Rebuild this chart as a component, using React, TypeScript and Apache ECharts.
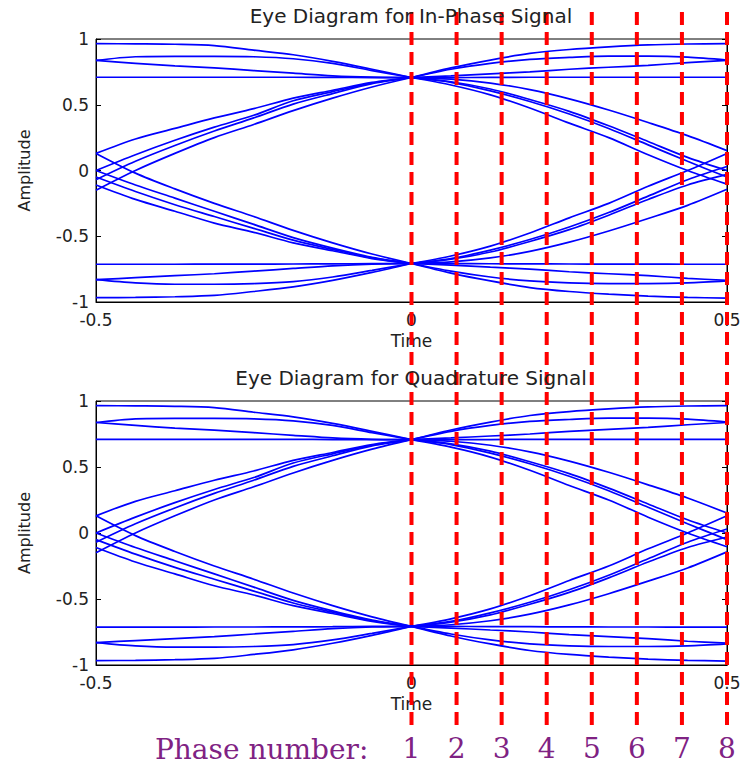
import React, { useEffect, useRef } from "react";
import * as echarts from "echarts";

// sample times for the two halves of a symbol period
const tLeft = [-0.5, -0.4375, -0.375, -0.3125, -0.25, -0.1875, -0.125, -0.0625, 0];
const tRight = [0, 0.0625, 0.125, 0.1875, 0.25, 0.3125, 0.375, 0.4375, 0.5];

// left half: traces converging to +0.707
const upperLeftOuter = [0.965, 0.963, 0.96, 0.95, 0.915, 0.88, 0.83, 0.77, 0.707];
const upperLeftBulge = [0.837, 0.865, 0.868, 0.868, 0.865, 0.85, 0.815, 0.76, 0.707];
const upperLeftInner = [0.837, 0.815, 0.795, 0.78, 0.76, 0.74, 0.72, 0.71, 0.707];
const upperLeftFlat = [0.709, 0.709, 0.709, 0.709, 0.709, 0.709, 0.708, 0.707, 0.707];
const risingLeft1 = [0.13, 0.24, 0.32, 0.4, 0.47, 0.55, 0.61, 0.67, 0.707];
const risingLeft2 = [0.0, 0.12, 0.23, 0.33, 0.42, 0.53, 0.6, 0.665, 0.707];
const risingLeft3 = [-0.07, 0.07, 0.19, 0.3, 0.4, 0.505, 0.585, 0.66, 0.707];
const risingLeft4 = [-0.15, 0.0, 0.13, 0.25, 0.35, 0.455, 0.55, 0.635, 0.707];
// left half: traces converging to -0.707
const fallingLeft1 = [0.13, -0.02, -0.14, -0.25, -0.35, -0.455, -0.55, -0.635, -0.707];
const fallingLeft2 = [0.0, -0.11, -0.21, -0.31, -0.41, -0.51, -0.59, -0.66, -0.707];
const fallingLeft3 = [-0.05, -0.16, -0.26, -0.35, -0.44, -0.53, -0.6, -0.665, -0.707];
const fallingLeft4 = [-0.11, -0.22, -0.31, -0.4, -0.47, -0.55, -0.61, -0.67, -0.707];
const lowerLeftOuter = [-0.967, -0.965, -0.96, -0.95, -0.92, -0.885, -0.835, -0.775, -0.707];
const lowerLeftBulge = [-0.83, -0.855, -0.865, -0.865, -0.86, -0.845, -0.81, -0.76, -0.707];
const lowerLeftInner = [-0.83, -0.815, -0.8, -0.785, -0.765, -0.745, -0.725, -0.712, -0.707];
const lowerLeftFlat = [-0.713, -0.713, -0.713, -0.712, -0.712, -0.711, -0.71, -0.708, -0.707];

// right half: traces leaving +0.707
const upperRightOuter = [0.707, 0.78, 0.84, 0.89, 0.92, 0.94, 0.955, 0.962, 0.965];
const upperRightBulge = [0.707, 0.77, 0.815, 0.845, 0.86, 0.87, 0.87, 0.862, 0.84];
const upperRightInner = [0.707, 0.72, 0.735, 0.75, 0.77, 0.785, 0.8, 0.82, 0.837];
const upperRightFlat = [0.707, 0.707, 0.708, 0.709, 0.709, 0.709, 0.709, 0.709, 0.709];
const fallingRight1 = [0.707, 0.695, 0.665, 0.615, 0.545, 0.46, 0.365, 0.265, 0.151];
const fallingRight2 = [0.707, 0.675, 0.62, 0.54, 0.45, 0.34, 0.22, 0.1, 0.0];
const fallingRight3 = [0.707, 0.67, 0.605, 0.525, 0.43, 0.32, 0.195, 0.07, -0.05];
const fallingRight4 = [0.707, 0.65, 0.575, 0.475, 0.36, 0.25, 0.12, 0.0, -0.104];
// right half: traces leaving -0.707
const risingRight1 = [-0.707, -0.65, -0.575, -0.475, -0.36, -0.25, -0.12, 0.0, 0.13];
const risingRight2 = [-0.707, -0.67, -0.605, -0.525, -0.43, -0.32, -0.195, -0.07, 0.03];
const risingRight3 = [-0.707, -0.675, -0.62, -0.54, -0.45, -0.34, -0.22, -0.11, -0.03];
const risingRight4 = [-0.707, -0.695, -0.665, -0.615, -0.545, -0.46, -0.365, -0.265, -0.143];
const lowerRightOuter = [-0.707, -0.78, -0.84, -0.89, -0.92, -0.94, -0.955, -0.965, -0.97];
const lowerRightBulge = [-0.707, -0.765, -0.81, -0.84, -0.855, -0.86, -0.86, -0.855, -0.84];
const lowerRightInner = [-0.707, -0.72, -0.735, -0.75, -0.77, -0.785, -0.8, -0.82, -0.835];
const lowerRightFlat = [-0.707, -0.708, -0.709, -0.71, -0.711, -0.712, -0.712, -0.713, -0.713];

const leftTraces = [
  upperLeftOuter, upperLeftBulge, upperLeftInner, upperLeftFlat,
  risingLeft1, risingLeft2, risingLeft3, risingLeft4,
  fallingLeft1, fallingLeft2, fallingLeft3, fallingLeft4,
  lowerLeftOuter, lowerLeftBulge, lowerLeftInner, lowerLeftFlat,
];
const rightTraces = [
  upperRightOuter, upperRightBulge, upperRightInner, upperRightFlat,
  fallingRight1, fallingRight2, fallingRight3, fallingRight4,
  risingRight1, risingRight2, risingRight3, risingRight4,
  lowerRightOuter, lowerRightBulge, lowerRightInner, lowerRightFlat,
];

const plotTitles = ["Eye Diagram for In-Phase Signal", "Eye Diagram for Quadrature Signal"];
const phaseTicks = [0, 1, 2, 3, 4, 5, 6, 7];
const phaseLabels = ["1", "2", "3", "4", "5", "6", "7", "8"];

const SANS = "DejaVu Sans";
const SERIF = "DejaVu Serif";
const PURPLE = "#7f2283";

export default function App() {
  const ref = useRef<HTMLDivElement>(null);
  useEffect(() => {
    if (!ref.current) return;
    const chart = echarts.init(ref.current, undefined, { renderer: "svg" });

    const grids = [
      { left: 96, top: 39, width: 631, height: 263, show: true, borderColor: "#000", borderWidth: 1 },
      { left: 96, top: 401, width: 631, height: 264, show: true, borderColor: "#000", borderWidth: 1 },
      { left: 96, top: 12, width: 631, height: 716 },
    ];

    const xAxes: any[] = [0, 1].map((g) => ({
      type: "value",
      gridIndex: g,
      position: "bottom",
      min: -0.5,
      max: 0.5,
      interval: 0.5,
      name: "Time",
      nameLocation: "middle",
      nameGap: 30,
      nameTextStyle: { fontFamily: SANS, fontSize: 17, color: "#222" },
      axisLine: { show: true, onZero: false, lineStyle: { color: "#000", width: 1 } },
      axisTick: { show: true, inside: true, length: 5, lineStyle: { color: "#000" } },
      axisLabel: { fontFamily: SANS, fontSize: 17, color: "#222", margin: 9 },
      splitLine: { show: false },
    }));
    xAxes.push({
      type: "value",
      gridIndex: 2,
      min: -7,
      max: 7,
      interval: 1,
      axisLine: { show: false, onZero: false },
      axisTick: { show: false },
      splitLine: { show: false },
      axisLabel: {
        fontFamily: SERIF,
        fontSize: 28,
        color: PURPLE,
        margin: 6,
        formatter: (v: number) => (v >= 0 ? phaseLabels[phaseTicks.indexOf(v)] ?? "" : ""),
      },
    });

    const yAxes: any[] = [];
    [0, 1].forEach((g) => {
      yAxes.push({
        type: "value",
        gridIndex: g,
        position: "left",
        min: -1,
        max: 1,
        interval: 0.5,
        name: "Amplitude",
        nameLocation: "middle",
        nameGap: 64,
        nameRotate: 90,
        nameTextStyle: { fontFamily: SANS, fontSize: 16, color: "#222" },
        axisLine: { show: true, onZero: false, lineStyle: { color: "#000", width: 1 } },
        axisTick: { show: true, inside: true, length: 5, lineStyle: { color: "#000" } },
        axisLabel: { fontFamily: SANS, fontSize: 17, color: "#222", margin: 7 },
        splitLine: { show: false },
      });
      yAxes.push({
        type: "value",
        gridIndex: g,
        position: "right",
        min: -1,
        max: 1,
        interval: 0.5,
        axisLine: { show: true, onZero: false, lineStyle: { color: "#000", width: 1 } },
        axisTick: { show: true, inside: true, length: 5, lineStyle: { color: "#000" } },
        axisLabel: { show: false },
        splitLine: { show: false },
      });
    });
    yAxes.push({ type: "value", gridIndex: 2, min: 0, max: 1, show: false });

    const series: any[] = [];
    [0, 1].forEach((p) => {
      const add = (t: number[], ys: number[]) =>
        series.push({
          type: "line",
          xAxisIndex: p,
          yAxisIndex: p * 2,
          data: t.map((x, i) => [x, ys[i]]),
          showSymbol: false,
          symbol: "none",
          smooth: 0.3,
          silent: true,
          z: 2,
          lineStyle: { color: "#0000ff", width: 1.7 },
        });
      leftTraces.forEach((ys) => add(tLeft, ys));
      rightTraces.forEach((ys) => add(tRight, ys));
    });
    phaseTicks.forEach((v) =>
      series.push({
        type: "line",
        xAxisIndex: 2,
        yAxisIndex: 4,
        data: [
          [v, 1],
          [v, 0],
        ],
        showSymbol: false,
        symbol: "none",
        silent: true,
        z: 5,
        lineStyle: { color: "#ff0000", width: 4, type: [13, 7] },
      })
    );

    chart.setOption({
      animation: false,
      backgroundColor: "#ffffff",
      title: plotTitles.map((text, i) => ({
        text,
        left: 411,
        textAlign: "center",
        top: i === 0 ? 6 : 368,
        padding: 0,
        textStyle: { fontFamily: SANS, fontSize: 20, fontWeight: "normal", color: "#222" },
      })),
      grid: grids,
      xAxis: xAxes,
      yAxis: yAxes,
      series,
      graphic: [
        {
          type: "text",
          x: 155,
          y: 749,
          style: {
            text: "Phase number:",
            font: `28px "${SERIF}"`,
            fill: PURPLE,
            textVerticalAlign: "middle",
          },
        },
      ],
    });
    return () => chart.dispose();
  }, []);
  return (
    <div
      ref={ref}
      style={{ position: "absolute", left: 0, top: 0, width: 745, height: 767, background: "#fff" }}
    />
  );
}
